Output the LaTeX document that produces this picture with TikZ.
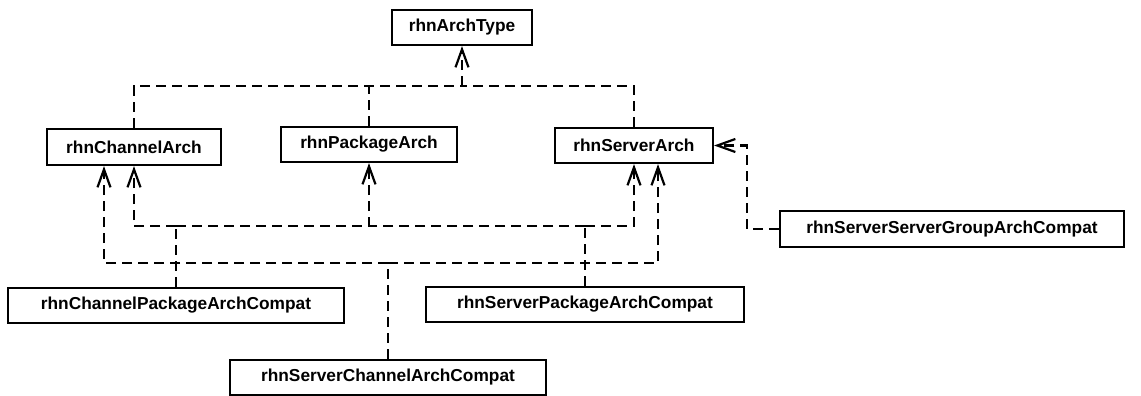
\documentclass[tikz,border=0pt]{standalone}
\usepackage{fontspec}
\setmainfont{Liberation Sans}
\usetikzlibrary{arrows.meta}
\begin{document}
\begin{tikzpicture}[x=1pt,y=-1pt,
  cls/.style={draw,line width=2.2pt,inner sep=0pt,font=\fontsize{17.3}{19}\selectfont\bfseries},
  dep/.style={line width=2.2pt,dash pattern=on 10pt off 6pt},
  deparrow/.style={dep,-{Straight Barb[length=18pt,width=13pt,line width=2.2pt]}}]
\useasboundingbox (0,0) rectangle (1141,396);
% classes
\node[cls,minimum width=140pt,minimum height=35pt] (at) at (462,27.5) {rhnArchType};
\node[cls,minimum width=174pt,minimum height=36pt] (ca) at (134,147) {rhnChannelArch};
\node[cls,minimum width=176pt,minimum height=35pt] (pa) at (369,144.5) {rhnPackageArch};
\node[cls,minimum width=158pt,minimum height=35pt] (sa) at (634,145.5) {rhnServerArch};
\node[cls,minimum width=344pt,minimum height=36pt] (sg) at (952,229) {rhnServerServerGroupArchCompat};
\node[cls,minimum width=336pt,minimum height=35pt] (cp) at (176,305.5) {rhnChannelPackageArchCompat};
\node[cls,minimum width=318pt,minimum height=35pt] (sp) at (585,304.5) {rhnServerPackageArchCompat};
\node[cls,minimum width=316pt,minimum height=35pt] (sc) at (388,377.5) {rhnServerChannelArchCompat};
% junctions
\coordinate (j1) at (462,86);
\coordinate (cpj) at (176,226);
\coordinate (spj) at (585,226);
\coordinate (scj) at (388,263);
\coordinate (caL) at ([xshift=-30pt]ca.south);
\coordinate (saR) at ([xshift=24pt]sa.south);
\coordinate (sgj) at (747,229);
% to rhnArchType
\draw[dep] (ca.north) |- (j1);
\draw[dep] (sa.north) |- (j1);
\draw[dep] (pa.north) -- (pa.north |- j1);
\draw[deparrow] (j1) -- (at.south);
% rhnChannelPackageArchCompat
\draw[dep] (cp.north) -- (cpj);
\draw[deparrow] (cpj) -| (ca.south);
\draw[deparrow] (cpj) -| (pa.south);
% rhnServerPackageArchCompat
\draw[dep] (sp.north) -- (spj);
\draw[dep] (spj) -- (pa.south |- spj);
\draw[deparrow] (spj) -| (sa.south);
% rhnServerChannelArchCompat
\draw[dep] (sc.north) -- (scj);
\draw[deparrow] (scj) -| (caL);
\draw[deparrow] (scj) -| (saR);
% rhnServerServerGroupArchCompat
\draw[deparrow] (sg.west) -- (sgj) |- (sa.east);
\end{tikzpicture}
\end{document}
